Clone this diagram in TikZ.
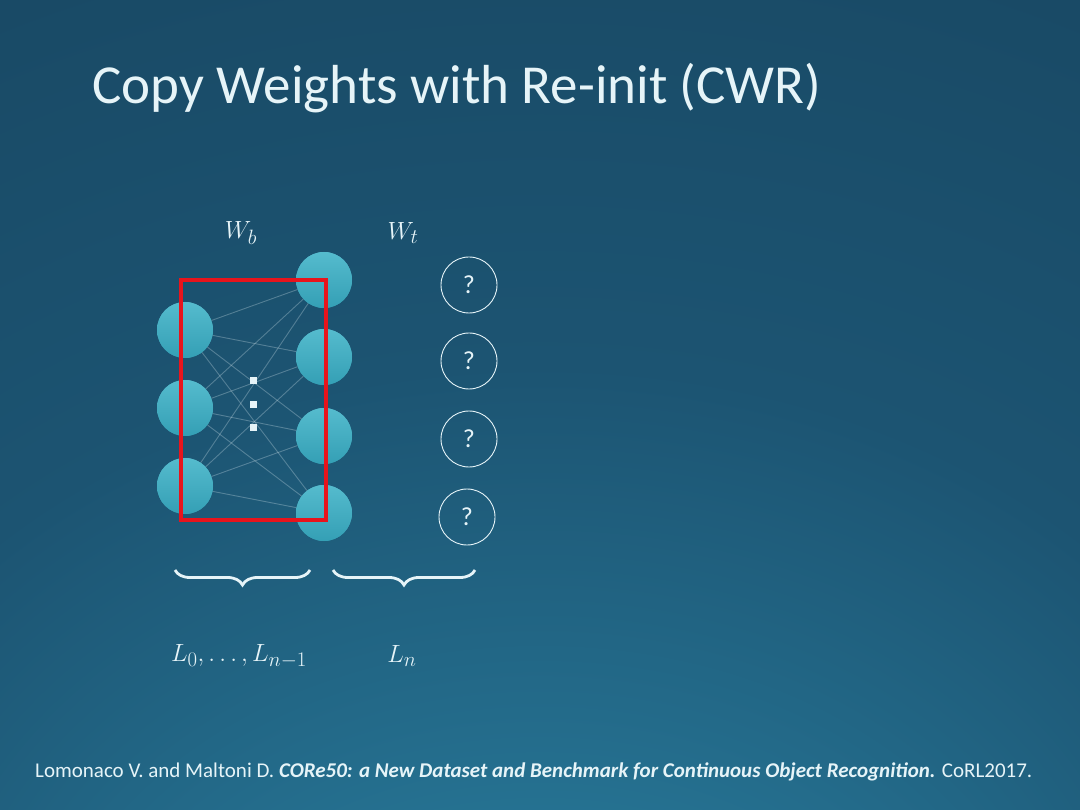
\documentclass[tikz,border=0pt]{standalone}
\usepackage{fontspec}
\setmainfont{Carlito}
\usetikzlibrary{decorations.pathreplacing}
\definecolor{bgA}{HTML}{153C55}
\definecolor{bgB}{HTML}{1C5472}
\definecolor{bgC}{HTML}{2E8CAD}
\definecolor{neuron}{HTML}{42B4C8}
\definecolor{neuronD}{HTML}{349FB5}
\definecolor{txt}{HTML}{E6F4F8}
\definecolor{boxred}{HTML}{E8141C}
\pgfdeclareradialshading{bgglow}{\pgfpoint{0bp}{-50bp}}{color(0bp)=(bgC); color(35bp)=(bgB); color(80bp)=(bgA); color(100bp)=(bgA)}
\tikzset{
  neuronnode/.style={circle, minimum size=56pt, inner sep=0pt, top color=neuron!90!white, bottom color=neuronD, draw=none},
  qnode/.style={circle, minimum size=56pt, inner sep=0pt, draw=txt, line width=0.9pt, text=txt, font=\fontsize{26}{28}\selectfont},
  edgeline/.style={draw=txt, opacity=0.28, line width=0.9pt},
  dotnode/.style={rectangle, minimum size=7pt, inner sep=0pt, fill=txt},
  mathlabel/.style={text=txt, font=\fontsize{28}{30}\selectfont},
  bracestyle/.style={draw=txt, line width=2.8pt, decorate, decoration={brace, amplitude=15pt, mirror}}
}
\begin{document}
\begin{tikzpicture}[x=1pt, y=-1pt]
\useasboundingbox (0,0) rectangle (1080,810);
\shade[shading=bgglow] (0,0) rectangle (1080,810);
% title
\node[anchor=west, text=txt, font=\fontsize{55}{60}\selectfont] (title) at (89,88) {Copy Weights with Re-init (CWR)};
% labels
\node[mathlabel] (wb) at (241,233) {$W_b$};
\node[mathlabel] (wt) at (403,233) {$W_t$};
% neurons (named positions)
\node[neuronnode] (l1) at (185,330) {};
\node[neuronnode] (l2) at (185,408) {};
\node[neuronnode] (l3) at (185,486) {};
\node[neuronnode] (r1) at (324,280) {};
\node[neuronnode] (r2) at (324,357) {};
\node[neuronnode] (r3) at (324,436) {};
\node[neuronnode] (r4) at (324,513) {};
\foreach \a in {l1,l2,l3}{
  \foreach \b in {r1,r2,r3,r4}{
    \draw[edgeline] (\a) -- (\b);
  }
}
% redraw neurons on top of edges
\foreach \n in {l1,l2,l3,r1,r2,r3,r4}{
  \node[neuronnode] at (\n) {};
}
% dots
\node[dotnode] (d1) at (253,381) {};
\node[dotnode] (d2) at (253,405) {};
\node[dotnode] (d3) at (253,428) {};
% red box
\node[draw=boxred, line width=4pt, minimum width=145pt, minimum height=240pt, inner sep=0pt] (box) at (253.5,400) {};
% question nodes
\node[qnode] (q1) at (469,285) {?};
\node[qnode] (q2) at (469,361) {?};
\node[qnode] (q3) at (469,439) {?};
\node[qnode] (q4) at (467,517) {?};
% braces
\coordinate (b1s) at (175,570);
\coordinate (b1e) at (310,570);
\coordinate (b2s) at (333,570);
\coordinate (b2e) at (475,570);
\draw[bracestyle] (b1s) -- (b1e);
\draw[bracestyle] (b2s) -- (b2e);
\node[mathlabel] (lbl1) at (239,656) {$L_0, \ldots, L_{n-1}$};
\node[mathlabel] (lbl2) at (402,656) {$L_n$};
% citation
\node[anchor=west, text=txt, font=\fontsize{21}{24}\selectfont, inner sep=0pt] (cite) at (35,772) {Lomonaco V. and Maltoni D. \textbf{\textit{CORe50: a New Dataset and Benchmark for Continuous Object Recognition.}} CoRL2017.};
\end{tikzpicture}
\end{document}
